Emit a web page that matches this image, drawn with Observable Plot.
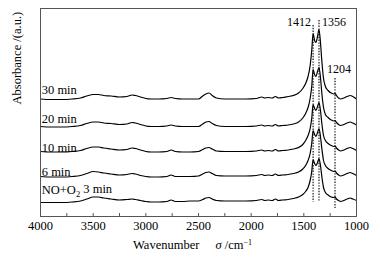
<!DOCTYPE html>
<html><head><meta charset="utf-8">
<script src="https://cdn.jsdelivr.net/npm/d3@7"></script>
<script src="https://cdn.jsdelivr.net/npm/@observablehq/plot@0.6"></script>
<style>body{margin:0;background:#fff}</style>
</head><body><div id="chart"></div>
<script>
// Wavenumber sampling (cm^-1)
const wavenumbers = [4000,3900,3800,3700,3620,3560,3500,3450,3400,3330,3250,3180,3130,3100,3050,3000,2950,2880,2800,2760,2720,2650,2580,2500,2460,2430,2400,2370,2330,2250,2150,2050,1950,1900,1870,1840,1800,1770,1740,1700,1650,1600,1550,1510,1483,1460,1440,1425,1412,1398,1385,1370,1356,1342,1328,1313,1295,1270,1240,1215,1204,1190,1170,1150,1120,1090,1060,1035,1000];

// Offset absorbance spectra (a.u.)
const abs30 = [1.175,1.17,1.17,1.175,1.185,1.205,1.22,1.22,1.21,1.205,1.195,1.2,1.215,1.21,1.195,1.18,1.175,1.175,1.18,1.19,1.18,1.175,1.175,1.175,1.205,1.225,1.235,1.21,1.185,1.175,1.175,1.175,1.18,1.195,1.185,1.19,1.185,1.2,1.185,1.19,1.2,1.21,1.235,1.28,1.33,1.40,1.51,1.66,1.83,1.76,1.74,1.80,1.87,1.74,1.54,1.38,1.30,1.26,1.235,1.225,1.23,1.21,1.185,1.175,1.185,1.20,1.21,1.20,1.175];
const abs20 = [0.90,0.895,0.895,0.90,0.91,0.93,0.945,0.945,0.935,0.93,0.92,0.925,0.94,0.935,0.92,0.905,0.90,0.90,0.905,0.915,0.905,0.90,0.90,0.90,0.925,0.945,0.95,0.93,0.91,0.90,0.90,0.90,0.905,0.915,0.905,0.91,0.905,0.92,0.905,0.91,0.915,0.925,0.945,0.985,1.03,1.09,1.18,1.30,1.47,1.42,1.40,1.45,1.49,1.39,1.22,1.09,1.02,0.99,0.965,0.955,0.96,0.94,0.92,0.91,0.92,0.935,0.945,0.935,0.915];
const abs10 = [0.65,0.645,0.645,0.65,0.66,0.68,0.695,0.695,0.685,0.675,0.665,0.67,0.685,0.68,0.665,0.65,0.645,0.645,0.65,0.665,0.65,0.645,0.645,0.65,0.67,0.685,0.69,0.675,0.655,0.65,0.65,0.65,0.655,0.665,0.655,0.66,0.655,0.67,0.655,0.66,0.665,0.675,0.69,0.72,0.76,0.81,0.88,0.98,1.12,1.08,1.06,1.10,1.14,1.06,0.92,0.81,0.76,0.73,0.71,0.70,0.705,0.685,0.665,0.655,0.665,0.68,0.69,0.68,0.66];
const abs6 = [0.40,0.395,0.395,0.40,0.41,0.43,0.45,0.445,0.435,0.425,0.415,0.42,0.43,0.425,0.41,0.40,0.395,0.395,0.40,0.415,0.40,0.40,0.40,0.405,0.425,0.44,0.445,0.43,0.41,0.405,0.405,0.405,0.41,0.42,0.41,0.415,0.41,0.425,0.41,0.415,0.42,0.43,0.445,0.475,0.51,0.56,0.63,0.73,0.86,0.82,0.80,0.84,0.88,0.80,0.67,0.56,0.51,0.48,0.46,0.45,0.455,0.435,0.415,0.405,0.415,0.43,0.44,0.43,0.41];
const abs3 = [0.14,0.14,0.14,0.145,0.155,0.175,0.195,0.195,0.185,0.175,0.165,0.17,0.175,0.17,0.16,0.15,0.145,0.145,0.15,0.165,0.15,0.15,0.155,0.155,0.17,0.185,0.19,0.175,0.16,0.155,0.155,0.155,0.16,0.17,0.16,0.165,0.16,0.175,0.16,0.165,0.17,0.18,0.195,0.22,0.25,0.29,0.36,0.45,0.57,0.53,0.51,0.54,0.58,0.51,0.39,0.29,0.24,0.215,0.195,0.19,0.195,0.175,0.16,0.15,0.16,0.175,0.185,0.175,0.16];

const seriesNames = ["30 min", "20 min", "10 min", "6 min", "NO+O₂ 3 min"];
const seriesValues = [abs30, abs20, abs10, abs6, abs3];
const seriesLabelY = [1.265, 0.98, 0.69, 0.45, 0.265];

const peakPositions = [1412, 1356, 1204];
const peakLineTop = [1.91, 1.96, 1.38];
const peakLineBottom = [0.14, 0.14, 0.08];
const peakLabelY = [1.94, 1.94, 1.47];

const xTickLabels = [4000, 3500, 3000, 2500, 2000, 1500, 1000];
const xMinorTicks = [3750, 3500, 3250, 3000, 2750, 2500, 2250, 2000, 1750, 1500, 1250];

const rows = seriesNames.flatMap((name, s) =>
  wavenumbers.map((w, i) => ({series: name, w, a: seriesValues[s][i]})));
const labels = seriesNames.map((name, s) => ({name, y: seriesLabelY[s]}));
const peaks = peakPositions.map((p, i) => ({x: p, top: peakLineTop[i], bottom: peakLineBottom[i], ly: peakLabelY[i], label: String(p)}));

const font = "Liberation Serif, Times New Roman, serif";
const chart = Plot.plot({
  width: 380, height: 258,
  marginLeft: 40, marginRight: 24, marginTop: 8, marginBottom: 42,
  style: {fontFamily: font, fontSize: "12px", color: "black", background: "white"},
  x: {domain: [4000, 1000]},
  y: {domain: [0, 2.08], axis: null},
  marks: [
    Plot.ruleX(peaks, {x: "x", y1: "top", y2: "bottom", stroke: "black", strokeWidth: 1.1, strokeDasharray: "1.4,1.4"}),
    Plot.line(rows, {x: "w", y: "a", z: "series", curve: "monotone-x", stroke: "black", strokeWidth: 1.2}),
    Plot.frame({stroke: "#555", strokeWidth: 1}),
    Plot.tickX(xMinorTicks, {x: d => d, insetTop: 205, stroke: "#555"}),
    Plot.axisX({ticks: xTickLabels, tickSize: 0, tickPadding: 5, tickFormat: d3.format("d"), fontSize: 12.5}),
    Plot.text(labels, {x: 3988, y: "y", text: "name", textAnchor: "start", fontSize: 12.5}),
    Plot.text(peaks.slice(0, 1), {x: "x", y: "ly", text: "label", textAnchor: "end", dx: -2, fontSize: 12}),
    Plot.text(peaks.slice(1, 2), {x: "x", y: "ly", text: "label", textAnchor: "start", dx: 3, fontSize: 12}),
    Plot.text(peaks.slice(2, 3), {x: "x", y: "ly", text: "label", textAnchor: "middle", dx: 4, fontSize: 12}),
    Plot.text(["Wavenumber σ /cm-1"], {text: d => d, frameAnchor: "bottom", dx: -6, dy: 32, fontSize: 12.5}),
    Plot.text(["Absorbance /(a.u.)"], {text: d => d, frameAnchor: "left", rotate: -90, dx: -24, dy: -8, fontSize: 12.5})
  ]
});
document.getElementById("chart").appendChild(chart);

// rich text: subscript, italic, superscript
const ns = "http://www.w3.org/2000/svg";
function span(parent, txt, attrs) {
  const t = document.createElementNS(ns, "tspan");
  t.textContent = txt;
  for (const k in attrs) t.setAttribute(k, attrs[k]);
  parent.appendChild(t);
}
chart.querySelectorAll("text").forEach(el => {
  const s = el.textContent;
  if (s === "NO+O₂ 3 min") {
    el.textContent = "";
    span(el, "NO+O", {});
    span(el, "2", {"font-size": 8.5, dy: "0.35em"});
    span(el, " 3 min", {dy: "-0.35em"});
  } else if (s === "Wavenumber σ /cm-1") {
    el.textContent = "";
    span(el, "Wavenumber", {});
    span(el, "σ", {"font-style": "italic", dx: 16});
    span(el, " /cm", {});
    span(el, "−1", {"font-size": 8, dy: "-0.45em"});
  }
});
</script>
</body></html>
